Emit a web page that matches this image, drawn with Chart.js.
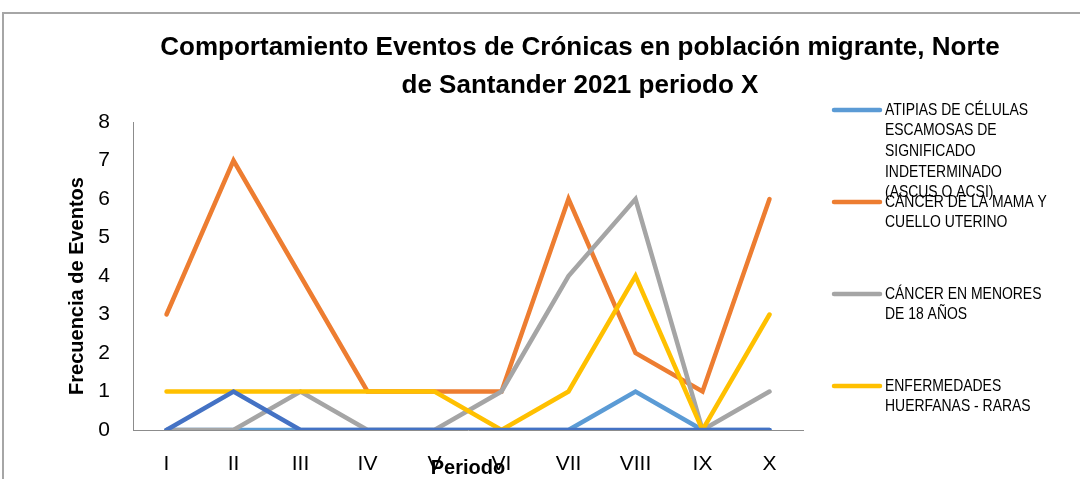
<!DOCTYPE html>
<html>
<head>
<meta charset="utf-8">
<script src="https://cdn.jsdelivr.net/npm/chart.js@4"></script>
<style>
  html, body { margin: 0; padding: 0; background: #fff; }
  #wrap { width: 1080px; height: 479px; position: relative; }
</style>
</head>
<body>
<div id="wrap"><canvas id="chart" width="1080" height="479"></canvas></div>
<script>
// data
const periodos = ["I", "II", "III", "IV", "V", "VI", "VII", "VIII", "IX", "X"];
const atipias = [0, 0, 0, 0, 0, 0, 0, 1, 0, 0];
const cancerMama = [3, 7, 4, 1, 1, 1, 6, 2, 1, 6];
const cancerMenores = [0, 0, 1, 0, 0, 1, 4, 6, 0, 1];
const huerfanas = [1, 1, 1, 1, 1, 0, 1, 4, 0, 3];
const quinta = [0, 1, 0, 0, 0, 0, 0, 0, 0, 0]; // serie sin leyenda visible
const yTicks = [0, 1, 2, 3, 4, 5, 6, 7, 8];

const titulo = ["Comportamiento Eventos de Crónicas en población migrante, Norte", "de Santander 2021 periodo X"];
const legendItems = [
  { color: "#5B9BD5", lines: ["ATIPIAS DE CÉLULAS", "ESCAMOSAS DE", "SIGNIFICADO", "INDETERMINADO", "(ASCUS O ACSI)"] },
  { color: "#ED7D31", lines: ["CÁNCER DE LA MAMA Y", "CUELLO UTERINO"] },
  { color: "#A5A5A5", lines: ["CÁNCER EN MENORES", "DE 18 AÑOS"] },
  { color: "#FFC000", lines: ["ENFERMEDADES", "HUERFANAS - RARAS"] }
];

const FONT = "'Liberation Sans', Arial, sans-serif";

function serie(label, data, color, order) {
  return {
    label: label,
    data: data,
    borderColor: color,
    backgroundColor: color,
    borderWidth: 4.5,
    borderCapStyle: "round",
    pointRadius: 0,
    pointHoverRadius: 0,
    tension: 0,
    order: order
  };
}

// frame, title, axis titles and legend drawn by hand
const extras = {
  id: "extras",
  beforeDraw(chart) {
    const c = chart.ctx;
    c.save();
    c.strokeStyle = "#A6A6A6";
    c.lineWidth = 2;
    c.beginPath();
    c.moveTo(3, 479);
    c.lineTo(3, 13);
    c.lineTo(1080, 13);
    c.stroke();
    c.restore();
  },
  afterDraw(chart) {
    const c = chart.ctx;
    const area = chart.chartArea;
    c.save();
    c.fillStyle = "#000";
    c.textAlign = "center";
    c.textBaseline = "middle";
    // title
    c.font = "bold 26px " + FONT;
    c.fillText(titulo[0], 580, 48);
    c.fillText(titulo[1], 580, 86);
    // x axis title overlapping tick labels
    c.font = "bold 20px " + FONT;
    c.fillText("Periodo", (area.left + area.right) / 2, 468);
    // y axis title
    c.save();
    c.translate(77, 286);
    c.rotate(-Math.PI / 2);
    c.fillText("Frecuencia de Eventos", 0, 0);
    c.restore();
    // legend
    const starts = [110, 202, 294, 386];
    c.font = "17px " + FONT;
    c.textAlign = "left";
    legendItems.forEach((it, i) => {
      const y = starts[i];
      c.strokeStyle = it.color;
      c.lineWidth = 4.5;
      c.lineCap = "round";
      c.beginPath();
      c.moveTo(834, y);
      c.lineTo(880, y);
      c.stroke();
      c.fillStyle = "#000";
      it.lines.forEach((t, j) => {
        c.save();
        c.translate(885, y + j * 20.7);
        c.scale(0.82, 1);
        c.fillText(t, 0, 0);
        c.restore();
      });
    });
    c.restore();
  }
};

new Chart(document.getElementById("chart"), {
  type: "line",
  data: {
    labels: periodos,
    datasets: [
      serie("ATIPIAS DE CÉLULAS ESCAMOSAS DE SIGNIFICADO INDETERMINADO (ASCUS O ACSI)", atipias, "#5B9BD5", 5),
      serie("CÁNCER DE LA MAMA Y CUELLO UTERINO", cancerMama, "#ED7D31", 4),
      serie("CÁNCER EN MENORES DE 18 AÑOS", cancerMenores, "#A5A5A5", 3),
      serie("ENFERMEDADES HUERFANAS - RARAS", huerfanas, "#FFC000", 2),
      serie("Serie 5", quinta, "#4472C4", 1)
    ]
  },
  options: {
    responsive: false,
    animation: false,
    layout: { padding: { left: 0, right: 277, top: 122, bottom: 0 } },
    plugins: {
      legend: { display: false },
      tooltip: { enabled: false },
      title: { display: false }
    },
    scales: {
      x: {
        offset: true,
        grid: { display: false },
        border: { display: true, color: "#8C8C8C", width: 1 },
        ticks: { color: "#000", font: { family: FONT, size: 21 }, padding: 14, maxRotation: 0 },
        afterFit(scale) { scale.height = 49; }
      },
      y: {
        min: 0,
        max: 8,
        afterBuildTicks(axis) { axis.ticks = yTicks.map(v => ({ value: v })); },
        grid: { display: false },
        border: { display: true, color: "#8C8C8C", width: 1 },
        ticks: { color: "#000", font: { family: FONT, size: 21 }, padding: 15 },
        afterFit(scale) { scale.width = 133; }
      }
    }
  },
  plugins: [extras]
});
</script>
</body>
</html>
